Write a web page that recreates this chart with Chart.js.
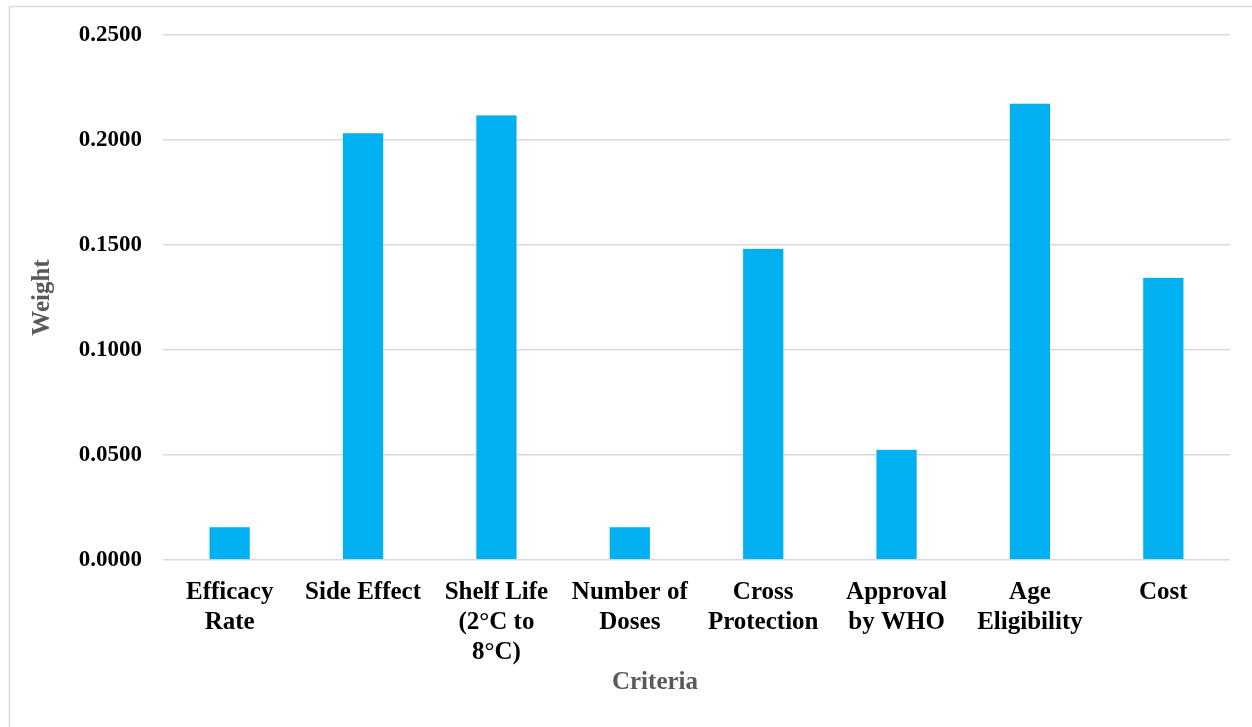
<!DOCTYPE html>
<html>
<head>
<meta charset="utf-8">
<title>Criteria Weights</title>
<script src="https://cdn.jsdelivr.net/npm/chart.js@4.4.1/dist/chart.umd.min.js"></script>
<style>
  html, body { margin: 0; padding: 0; background: #ffffff; }
  #wrap { position: relative; width: 1252px; height: 727px; }
</style>
</head>
<body>
<div id="wrap"><canvas id="chart" width="1252" height="727"></canvas></div>
<script>
// Criteria (multi-line category labels)
const categories = [
  ['Efficacy', 'Rate'],
  ['Side Effect'],
  ['Shelf Life', '(2°C to', '8°C)'],
  ['Number of', 'Doses'],
  ['Cross', 'Protection'],
  ['Approval', 'by WHO'],
  ['Age', 'Eligibility'],
  ['Cost']
];
// Weight of each criterion
const weights = [0.0159, 0.2035, 0.2119, 0.0159, 0.1484, 0.0527, 0.2175, 0.1346];
// Y axis tick values
const yTicks = [0, 0.05, 0.10, 0.15, 0.20, 0.25];

const xTitle = 'Criteria';
const yTitle = 'Weight';

const serif = '"Liberation Serif", "Times New Roman", serif';
const gridColor = '#d9d9d9';
const titleColor = '#595959';

// Frame lines and axis titles
const decorations = {
  id: 'decorations',
  beforeDraw(chart) {
    const ctx = chart.ctx;
    ctx.save();
    ctx.fillStyle = '#ffffff';
    ctx.fillRect(0, 0, chart.width, chart.height);
    ctx.strokeStyle = gridColor;
    ctx.lineWidth = 1.5;
    ctx.beginPath();
    ctx.moveTo(9.5, chart.height);
    ctx.lineTo(9.5, 6.5);
    ctx.lineTo(chart.width, 6.5);
    ctx.stroke();
    ctx.restore();
  },
  afterDraw(chart) {
    const ctx = chart.ctx;
    const area = chart.chartArea;
    ctx.save();
    ctx.fillStyle = titleColor;
    ctx.font = 'bold 25px ' + serif;
    ctx.textAlign = 'center';
    ctx.textBaseline = 'middle';
    ctx.fillText(xTitle, 655, 683);
    ctx.translate(43, (area.top + area.bottom) / 2);
    ctx.rotate(-Math.PI / 2);
    ctx.fillText(yTitle, 0, 0);
    ctx.restore();
  }
};

new Chart(document.getElementById('chart'), {
  type: 'bar',
  data: {
    labels: categories,
    datasets: [{
      label: yTitle,
      data: weights,
      backgroundColor: '#00b0f0',
      borderColor: '#b8ecfb',
      borderWidth: 0.6,
      categoryPercentage: 1.0,
      barPercentage: 0.31
    }]
  },
  options: {
    responsive: false,
    animation: false,
    devicePixelRatio: 1,
    layout: { padding: { left: 0, top: 35, right: 22, bottom: 0 } },
    plugins: {
      legend: { display: false },
      tooltip: { enabled: false },
      title: { display: false }
    },
    scales: {
      x: {
        grid: { display: false, drawTicks: false },
        border: { display: false },
        ticks: {
          color: '#000000',
          font: { family: serif, size: 25, weight: 'bold', lineHeight: 1.2 },
          padding: 18,
          maxRotation: 0,
          autoSkip: false
        },
        afterFit(scale) { scale.height = 167; }
      },
      y: {
        min: 0,
        max: 0.25,
        afterBuildTicks(scale) { scale.ticks = yTicks.map(v => ({ value: v })); },
        grid: { color: gridColor, lineWidth: 1.5, drawTicks: false },
        border: { display: false },
        ticks: {
          color: '#000000',
          font: { family: serif, size: 23, weight: 'bold' },
          padding: 21,
          callback: (v) => Number(v).toFixed(4)
        },
        afterFit(scale) { scale.width = 163; }
      }
    }
  },
  plugins: [decorations]
});
</script>
</body>
</html>
